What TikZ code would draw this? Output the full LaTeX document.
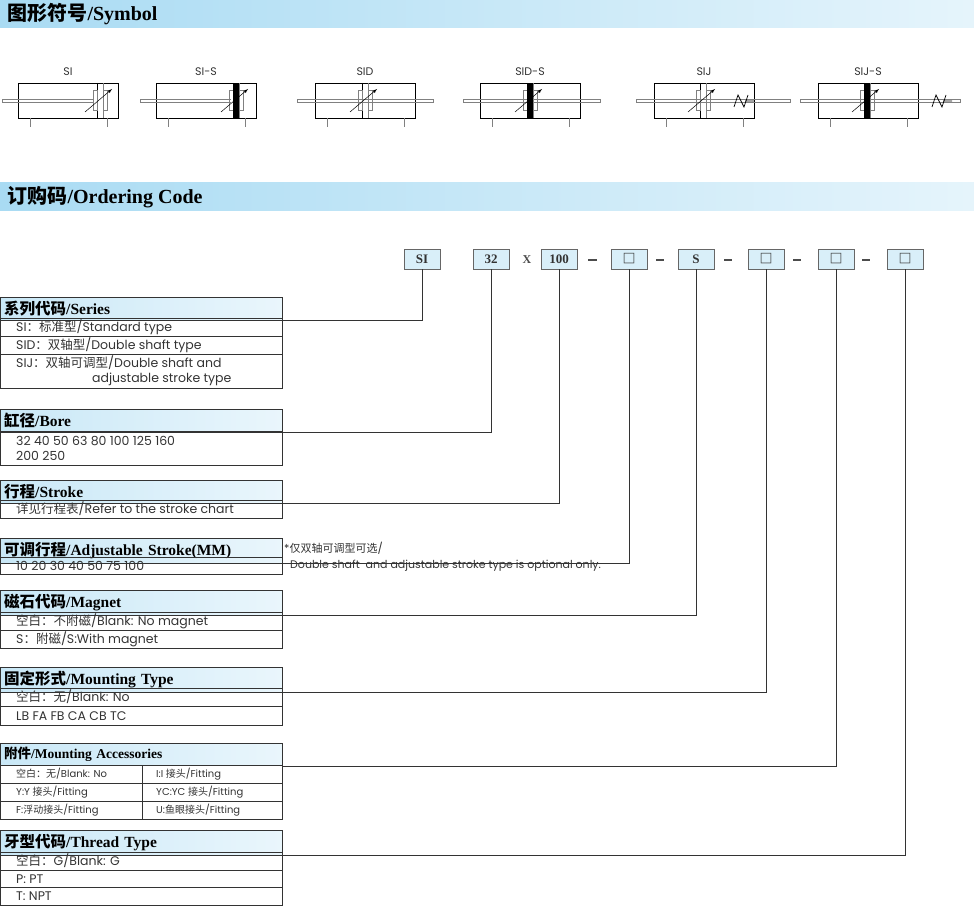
\documentclass[tikz,border=0pt]{standalone}
\usepackage{fontspec}
\setmainfont{Poppins}
\newfontfamily\cjk{Noto Sans CJK SC}
\newfontfamily\hdrfont{Liberation Serif}[BoldFont={Liberation Serif Bold}]
\newcommand{\zh}[1]{{\cjk #1}}
\definecolor{barblue}{HTML}{A9DBF3}
\definecolor{hdrblue}{HTML}{C9E8F7}
\definecolor{linegray}{HTML}{333333}
\tikzset{
  banner/.style={left color=barblue, right color=barblue!30, draw=none},
  hdr/.style={anchor=north west, left color=hdrblue, right color=hdrblue!40,
    draw=linegray, minimum width=282, text width=274, align=left, inner sep=4,
    font=\hdrfont\bfseries\fontsize{15.5}{16}\selectfont},
  row/.style={anchor=west, inner sep=0, font=\fontsize{12.5}{15}\selectfont, text=black!80},
  small/.style={row, font=\fontsize{10}{11}\selectfont},
  code/.style={draw=black!60, fill=hdrblue!70, minimum width=36, minimum height=20,
    inner sep=0, font=\hdrfont\bfseries\fontsize{13}{14}\selectfont, text=black!80},
  codedash/.style={draw=black!70, line width=1.6},
  conn/.style={draw=black!80, line width=0.6}
}
% cylinder symbol: #1 left x, #2 piston x, #3 label, #4 rod left, #5 rod right
\newcommand{\cyl}[5]{
  \draw[gray, line width=0.6] (#4,99.5) rectangle (#5,102.5);
  \draw[fill=white, line width=0.7] (#1,83) rectangle ++(100,35);
  \draw[gray, line width=0.6] (#4,99.5) -- (#5,99.5) (#4,102.5) -- (#5,102.5);
  \draw[line width=0.8] (#2,83) -- (#2,118);
  \draw[gray, line width=0.6] (#2-4,90) rectangle (#2,110) (#2+6,83) -- (#2+6,118) (#2+6,90) rectangle (#2+10,110);
  \draw[-latex, line width=0.5] (#2-12,112) -- (#2+15,89);
  \draw[gray, line width=0.6] (#1+12,118) -- (#1+12,127) (#1+89,118) -- (#1+89,127);
  \node[font=\fontsize{11}{12}\selectfont, text=black!80] at (#1+50,72) {#3};
}
\newcommand{\jmark}[1]{
  \draw[line width=0.7] (#1-8,107) -- (#1-4,95) -- (#1+2,107) -- (#1+6,95) (#1+3,101) -- (#1+12,101);
}
\begin{document}
\begin{tikzpicture}[x=1pt, y=-1pt]
\useasboundingbox (0,0) rectangle (974,912);
% banners
\shade[banner] (0,0) rectangle (974,28);
\node[anchor=west, font=\hdrfont\bfseries\fontsize{20}{21}\selectfont] (symtitle) at (4,14) {\zh{图形符号}/Symbol};
\shade[banner] (0,183) rectangle (974,211);
\node[anchor=west, font=\hdrfont\bfseries\fontsize{20}{21}\selectfont] (ordtitle) at (4,197) {\zh{订购码}/Ordering Code};
% symbols
\cyl{18}{97}{SI}{2}{93}
\cyl{156}{233}{SI-S}{140}{231}
\fill (233,83) rectangle (239,118);
\cyl{315}{362}{SID}{297}{433}
\cyl{480}{527}{SID-S}{463}{600}
\fill (527,83) rectangle (533,118);
\cyl{654}{700}{SIJ}{636}{790}
\jmark{742}
\cyl{818}{864}{SIJ-S}{800}{960}
\fill (864,83) rectangle (870,118);
\jmark{940}
% ordering code
\node[code] (cSI) at (422,259) {SI};
\node[code] (cBore) at (491,259) {32};
\node[font=\hdrfont\bfseries\fontsize{12}{13}\selectfont, text=black!70] (cx) at (527,260) {X};
\node[code] (cStroke) at (559,259) {100};
\draw[codedash] (588,260) -- (597,260);
\node[code] (cAdj) at (629,259) {\zh{□}};
\draw[codedash] (656,260) -- (664,260);
\node[code] (cMag) at (696,259) {S};
\draw[codedash] (724,260) -- (732,260);
\node[code] (cMount) at (766,259) {\zh{□}};
\draw[codedash] (793,260) -- (801,260);
\node[code] (cAcc) at (836,259) {\zh{□}};
\draw[codedash] (862,260) -- (870,260);
\node[code] (cThread) at (905,259) {\zh{□}};
% series
\node[hdr, minimum height=21] (series) at (0,297) {\zh{系列代码}/Series};
\draw[linegray] (0,318) rectangle (282,388) (0,336) -- (282,336) (0,354) -- (282,354);
\node[row] at (16,327) {SI\zh{：标准型}/Standard type};
\node[row] at (16,345) {SID\zh{：双轴型}/Double shaft type};
\node[row, align=left] at (16,371) {SIJ\zh{：双轴可调型}/Double shaft and\\\hspace*{76pt}adjustable stroke type};
% bore
\node[hdr, minimum height=22] (bore) at (0,409) {\zh{缸径}/Bore};
\draw[linegray] (0,431) rectangle (282,465);
\node[row, align=left] at (16,448) {32 40 50 63 80 100 125 160\\200 250};
% stroke
\node[hdr, minimum height=20] (stroke) at (0,480) {\zh{行程}/Stroke};
\draw[linegray] (0,500) rectangle (282,518);
\node[row] at (16,509) {\zh{详见行程表}/Refer to the stroke chart};
% adjustable stroke
\node[hdr, minimum height=19] (adj) at (0,538) {\zh{可调行程}/Adjustable Stroke(MM)};
\draw[linegray] (0,557) rectangle (282,574);
\node[row] at (16,566) {10 20 30 40 50 75 100};
\node[row, font=\fontsize{11}{12}\selectfont] at (284,548) {*\zh{仅双轴可调型可选}/};
\node[row, font=\fontsize{11}{12}\selectfont] at (290,566) {Double shaft\ \ and adjustable stroke type is optional only.};
% magnet
\node[hdr, minimum height=22] (mag) at (0,590) {\zh{磁石代码}/Magnet};
\draw[linegray] (0,612) rectangle (282,648) (0,630) -- (282,630);
\node[row] at (16,621) {\zh{空白：不附磁}/Blank: No magnet};
\node[row] at (16,639) {S\zh{：附磁}/S:With magnet};
% mounting
\node[hdr, minimum height=21] (mount) at (0,667) {\zh{固定形式}/Mounting Type};
\draw[linegray] (0,688) rectangle (282,725) (0,706) -- (282,706);
\node[row] at (16,697) {\zh{空白：无}/Blank: No};
\node[row] at (16,716) {LB FA FB CA CB TC};
% accessories
\node[hdr, minimum height=22, font=\hdrfont\bfseries\fontsize{13.5}{14}\selectfont] (acc) at (0,743) {\zh{附件}/Mounting Accessories};
\draw[linegray] (0,765) rectangle (282,819) (0,783) -- (282,783) (0,801) -- (282,801) (142,765) -- (142,819);
\node[small] at (16,774) {\zh{空白：无}/Blank: No};
\node[small] at (16,792) {Y:Y \zh{接头}/Fitting};
\node[small] at (16,810) {F:\zh{浮动接头}/Fitting};
\node[small] at (156,774) {I:I \zh{接头}/Fitting};
\node[small] at (156,792) {YC:YC \zh{接头}/Fitting};
\node[small] at (156,810) {U:\zh{鱼眼接头}/Fitting};
% thread
\node[hdr, minimum height=22] (thread) at (0,830) {\zh{牙型代码}/Thread Type};
\draw[linegray] (0,852) rectangle (282,905) (0,870) -- (282,870) (0,887) -- (282,887);
\node[row] at (16,861) {\zh{空白：}G/Blank: G};
\node[row] at (16,879) {P: PT};
\node[row] at (16,896) {T: NPT};
% connectors
\draw[conn] (cSI.south) |- (series.south east);
\draw[conn] (cBore.south) |- (bore.south east);
\draw[conn] (cStroke.south) |- (stroke.south east);
\draw[conn] (cAdj.south) |- (adj.south east);
\draw[conn] (cMag.south) |- (mag.south east);
\draw[conn] (cMount.south) |- (mount.south east);
\draw[conn] (cAcc.south) |- (acc.south east);
\draw[conn] (cThread.south) |- (thread.south east);
\end{tikzpicture}
\end{document}
